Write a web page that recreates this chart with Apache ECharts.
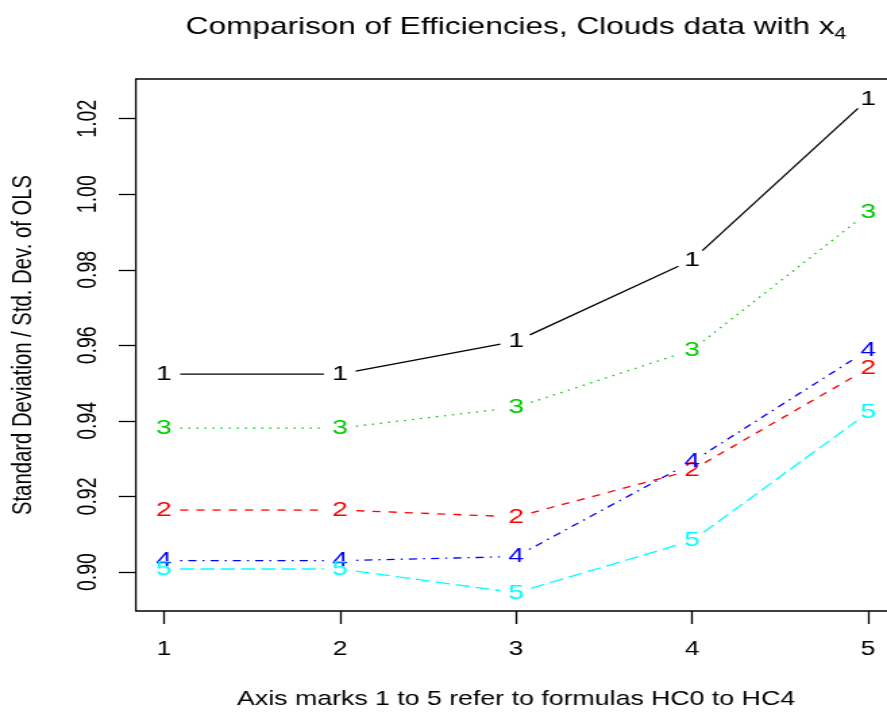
<!DOCTYPE html>
<html>
<head>
<meta charset="utf-8">
<script src="https://cdn.jsdelivr.net/npm/echarts@6/dist/echarts.min.js"></script>
<style>
html,body{margin:0;padding:0;background:#fff;overflow:hidden}
#wrap{width:887px;height:715px;overflow:hidden;position:relative}
#main{width:657px;height:715px;transform:scaleX(1.35008);transform-origin:0 0}
</style>
</head>
<body>
<div id="wrap"><div id="main"></div></div>
<script>
// Formula index (HC0..HC4 -> 1..5)
const formulas = [1, 2, 3, 4, 5];
const xTickLabels = [1, 2, 3, 4, 5];
const yTickValues = [0.90, 0.92, 0.94, 0.96, 0.98, 1.00, 1.02];

// Relative efficiencies (SD / SD of OLS), one array per estimator
const series1 = [0.9524, 0.9524, 0.9611, 0.9826, 1.0252];
const series2 = [0.9164, 0.9164, 0.9146, 0.9270, 0.9539];
const series3 = [0.9381, 0.9381, 0.9436, 0.9588, 0.9952];
const series4 = [0.9030, 0.9030, 0.9041, 0.9292, 0.9588];
const series5 = [0.9008, 0.9008, 0.8945, 0.9083, 0.9422];

const seriesNames = ['1', '2', '3', '4', '5'];
const seriesValues = [series1, series2, series3, series4, series5];
const seriesColors = ['#000000', '#FF0000', '#00CD00', '#0000FF', '#00FFFF'];
const seriesDash = [null, [6, 6], [1.5, 4.5], [1.5, 4.5, 6, 4.5], [10.5, 4.5]];

const FONT = '"Liberation Sans", Arial, Helvetica, sans-serif';
const GAP = 12;

function makeRender(vals, color, dash, label) {
  return function (params, api) {
    const i = params.dataIndex;
    const p = api.coord([api.value(0), api.value(1)]);
    const children = [{
      type: 'text',
      x: p[0], y: p[1],
      z2: 10,
      style: {
        text: label, fill: color,
        font: '21px ' + FONT,
        align: 'center', verticalAlign: 'middle',
        textAlign: 'center', textVerticalAlign: 'middle'
      }
    }];
    if (i < vals.length - 1) {
      const q = api.coord([formulas[i + 1], vals[i + 1]]);
      const dx = q[0] - p[0], dy = q[1] - p[1];
      const len = Math.sqrt(dx * dx + dy * dy);
      if (len > 2 * GAP) {
        const ux = dx / len, uy = dy / len;
        children.push({
          type: 'line',
          shape: { x1: p[0] + ux * GAP, y1: p[1] + uy * GAP, x2: q[0] - ux * GAP, y2: q[1] - uy * GAP },
          style: { stroke: color, lineWidth: 1.3, lineDash: dash, fill: null }
        });
      }
    }
    return { type: 'group', children: children };
  };
}

const chart = echarts.init(document.getElementById('main'));
const option = {
  animation: false,
  backgroundColor: '#fff',
  grid: {
    left: 100.6, top: 79, width: 563.3, height: 532,
    show: true, borderColor: '#000', borderWidth: 1.3,
    containLabel: false, outerBoundsMode: 'none'
  },
  graphic: [{
    type: 'text',
    x: 382.25, y: 28,
    style: {
      text: '{a|Comparison of Efficiencies, Clouds data with x}{b|4}',
      align: 'center', verticalAlign: 'middle',
      textAlign: 'center', textVerticalAlign: 'middle',
      rich: {
        a: { fontSize: 23.4, fontFamily: FONT, lineHeight: 30, verticalAlign: 'middle', fill: '#000', color: '#000' },
        b: { fontSize: 16, fontFamily: FONT, lineHeight: 14, verticalAlign: 'bottom', fill: '#000', color: '#000' }
      }
    }
  }],
  xAxis: {
    type: 'value', min: 0.84, max: 5.16,
    name: 'Axis marks 1 to 5 refer to formulas HC0 to HC4',
    nameLocation: 'middle', nameGap: 79,
    nameTextStyle: { fontSize: 19.8, fontFamily: FONT, color: '#000', lineHeight: 20 },
    axisLine: { show: false, onZero: false },
    axisTick: { show: true, customValues: xTickLabels, length: 13, lineStyle: { color: '#000', width: 1.3 } },
    axisLabel: { show: true, customValues: xTickLabels, margin: 29, fontSize: 19.5, fontFamily: FONT, color: '#000', lineHeight: 20 },
    splitLine: { show: false }
  },
  yAxis: {
    type: 'value', min: 0.88968, max: 1.0305,
    name: 'Standard Deviation / Std. Dev. of OLS',
    nameLocation: 'middle', nameGap: 72.8,
    nameTextStyle: { fontSize: 20.3, fontFamily: FONT, color: '#000', lineHeight: 20 },
    axisLine: { show: false, onZero: false },
    axisTick: { show: true, customValues: yTickValues, length: 12.6, lineStyle: { color: '#000', width: 1.3 } },
    axisLabel: {
      show: true, customValues: yTickValues, rotate: 90, margin: 25.4,
      fontSize: 19.5, fontFamily: FONT, color: '#000', lineHeight: 20,
      formatter: function (v) { return v.toFixed(2); }
    },
    splitLine: { show: false }
  },
  series: seriesValues.map(function (vals, k) {
    return {
      type: 'custom',
      name: seriesNames[k],
      renderItem: makeRender(vals, seriesColors[k], seriesDash[k], seriesNames[k]),
      encode: { x: 0, y: 1 },
      clip: false,
      data: vals.map(function (v, i) { return [formulas[i], v]; })
    };
  })
};
chart.setOption(option);
</script>
</body>
</html>
